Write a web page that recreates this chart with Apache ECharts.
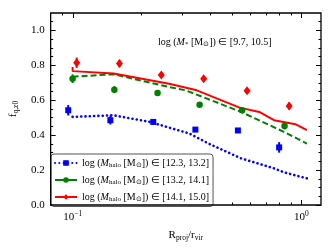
<!DOCTYPE html>
<html><head><meta charset="utf-8">
<script src="https://cdn.jsdelivr.net/npm/echarts@6/dist/echarts.min.js"></script>
<style>html,body{margin:0;padding:0;background:#fff}#c{width:334px;height:250px}</style>
</head><body><div id="c"></div>
<script>
// ---- data ----
const seriesNames = ['low', 'mid', 'high'];
const legendLabels = ['[12.3, 13.2]', '[13.2, 14.1]', '[14.1, 15.0]'];
const xMajorTicks = [0.1, 1];
const xMinorTicks = [0.08, 0.09, 0.2, 0.3, 0.4, 0.5, 0.6, 0.7, 0.8, 0.9];
const yMajorTicks = [0, 0.2, 0.4, 0.6, 0.8, 1.0];
const yMinorTicks = [0.05, 0.1, 0.15, 0.25, 0.3, 0.35, 0.45, 0.5, 0.55, 0.65, 0.7, 0.75, 0.85, 0.9, 0.95, 1.05];

// observed points [R, f, err]
const bluePts = [[0.0955, 0.543, 0.03], [0.146, 0.486, 0.025], [0.225, 0.476, 0.015], [0.344, 0.432, 0.01], [0.528, 0.427, 0.01], [0.80, 0.33, 0.03]];
const greenPts = [[0.0998, 0.724, 0.025], [0.152, 0.661, 0.02], [0.235, 0.642, 0.015], [0.359, 0.575, 0.01], [0.551, 0.543, 0.01], [0.845, 0.453, 0.02]];
const redPts = [[0.104, 0.815, 0.03], [0.160, 0.81, 0.02], [0.244, 0.745, 0.015], [0.374, 0.724, 0.015], [0.579, 0.655, 0.015], [0.885, 0.567, 0.02]];

// model lines [R, f]
const blueLine = [[0.0998, 0.505], [0.151, 0.514], [0.217, 0.476], [0.323, 0.41], [0.406, 0.343], [0.546, 0.267], [0.760, 0.21], [0.841, 0.187], [1.062, 0.152]];
const greenLine = [[0.0998, 0.735], [0.1005, 0.743], [0.151, 0.749], [0.264, 0.676], [0.312, 0.657], [0.546, 0.533], [0.839, 0.419], [1.059, 0.352]];
const redLine = [[0.0998, 0.791], [0.0999, 0.767], [0.151, 0.754], [0.264, 0.695], [0.349, 0.657], [0.537, 0.558], [0.655, 0.533], [0.760, 0.486], [0.942, 0.463], [1.059, 0.429]];

const colors = ['#0000ff', '#008000', '#ff0000'];
const FONT = 'Liberation Serif';

const chart = echarts.init(document.getElementById('c'), null, {renderer: 'canvas'});

function errSeries(data, color) {
  return {
    type: 'custom', xAxisIndex: 0, yAxisIndex: 0, z: 4, silent: true,
    renderItem: function (params, api) {
      const x = api.value(0), y = api.value(1), e = api.value(2);
      const p1 = api.coord([x, y - e]);
      const p2 = api.coord([x, y + e]);
      return {type: 'line', shape: {x1: p1[0], y1: p1[1], x2: p2[0], y2: p2[1]}, style: {stroke: color, lineWidth: 2}};
    },
    data: data
  };
}
function ptSeries(name, data, color, symbol, size) {
  return {type: 'scatter', name: name, data: data.map(d => [d[0], d[1]]), symbol: symbol, symbolSize: size,
    itemStyle: {color: color, opacity: 1}, z: 5, silent: true};
}
function xAx(pos, ticks, len, labels) {
  return {
    type: 'log', logBase: 10, min: 0.08, max: 1.22, position: pos,
    axisLine: {show: false, onZero: false},
    splitLine: {show: false},
    axisTick: {show: true, inside: true, length: len, customValues: ticks, lineStyle: {color: '#000', width: 1}},
    axisLabel: labels ? {
      show: true, customValues: xMajorTicks, margin: 5,
      formatter: v => v < 0.5 ? '{b|10}{s|\u22121}' : '{b|10}{s|0}',
      rich: {b: {fontFamily: FONT, fontSize: 11, color: '#000'}, s: {fontFamily: FONT, fontSize: 7.5, color: '#000', padding: [0, 0, 7, 0]}}
    } : {show: false}
  };
}
function yAx(pos, ticks, len, labels) {
  return {
    type: 'value', min: 0, max: 1.1, position: pos,
    axisLine: {show: false, onZero: false},
    splitLine: {show: false},
    axisTick: {show: true, inside: true, length: len, customValues: ticks, lineStyle: {color: '#000', width: 1}},
    axisLabel: labels ? {show: true, customValues: yMajorTicks, margin: 6,
      fontFamily: FONT, fontSize: 11, color: '#000', formatter: v => v.toFixed(1)} : {show: false}
  };
}

const xAxes = [xAx('bottom', xMajorTicks, 5, true), xAx('bottom', xMinorTicks, 2.5, false),
               xAx('top', xMajorTicks, 5, false), xAx('top', xMinorTicks, 2.5, false)];
xAxes[0].name = '{a|R}{s|proj}{a|/r}{s|vir}';
xAxes[0].nameLocation = 'middle';
xAxes[0].nameGap = 24;
xAxes[0].nameTextStyle = {rich: {a: {fontFamily: FONT, fontSize: 11, color: '#000'}, s: {fontFamily: FONT, fontSize: 7.5, color: '#000', padding: [5, 0, 0, 0]}}};

const yAxes = [yAx('left', yMajorTicks, 5, true), yAx('left', yMinorTicks, 2.5, false),
               yAx('right', yMajorTicks, 5, false), yAx('right', yMinorTicks, 2.5, false)];
yAxes[0].name = '{a|f}{s|q,z0}';
yAxes[0].nameLocation = 'middle';
yAxes[0].nameRotate = 90;
yAxes[0].nameGap = 30;
yAxes[0].nameTextStyle = {rich: {a: {fontFamily: FONT, fontSize: 11, color: '#000'}, s: {fontFamily: FONT, fontSize: 7.5, color: '#000', padding: [5, 0, 0, 0]}}};

const lineSeries = [
  {type: 'line', name: seriesNames[0], data: blueLine, showSymbol: false, symbol: 'rect', symbolSize: 7, z: 3,
   lineStyle: {color: colors[0], width: 2.6, type: [0.1, 4.2], cap: 'round'}, itemStyle: {color: colors[0]}, silent: true},
  {type: 'line', name: seriesNames[1], data: greenLine, showSymbol: false, symbol: 'circle', symbolSize: 7, z: 3,
   lineStyle: {color: colors[1], width: 2, type: [6, 3]}, itemStyle: {color: colors[1]}, silent: true},
  {type: 'line', name: seriesNames[2], data: redLine, showSymbol: false, symbol: 'diamond', symbolSize: 8, z: 3,
   lineStyle: {color: colors[2], width: 2}, itemStyle: {color: colors[2]}, silent: true}
];

const legendRich = {
  n: {fontFamily: FONT, fontSize: 10, fontWeight: 'normal', color: '#000'},
  i: {fontFamily: FONT, fontSize: 10, fontWeight: 'normal', fontStyle: 'italic', color: '#000'},
  s: {fontFamily: FONT, fontSize: 7, fontWeight: 'normal', color: '#000', padding: [4, 0, 0, 0]}
};

chart.setOption({
  animation: false,
  backgroundColor: '#fff',
  grid: {left: 47, right: 13, top: 13, bottom: 45, containLabel: false, show: true,
         borderColor: '#000', borderWidth: 1.3, backgroundColor: 'transparent', z: 10},
  title: {
    text: '{n|log (}{i|M}{s|*}{n| [M}{s|\u2299}{n|]) \u2208 [9.7, 10.5]}',
    left: 158, top: 37, padding: 0,
    textStyle: {fontWeight: 'normal', rich: legendRich}
  },
  legend: {
    orient: 'vertical', left: 51, top: 154, padding: [4, 4, 4, 3],
    itemWidth: 22, itemHeight: 7, itemGap: 6.5,
    backgroundColor: '#fff', borderColor: '#555', borderWidth: 1, borderRadius: 3,
    selectedMode: false,
    data: [
      {name: seriesNames[0]},
      {name: seriesNames[1], lineStyle: {type: 'solid'}},
      {name: seriesNames[2]}
    ],
    formatter: function (name) {
      const k = seriesNames.indexOf(name);
      return '{n|log (}{i|M}{s|halo}{n| [M}{s|\u2299}{n|]) \u2208 ' + legendLabels[k] + '}';
    },
    textStyle: {rich: legendRich}
  },
  xAxis: xAxes,
  yAxis: yAxes,
  series: [
    ...lineSeries,
    errSeries(bluePts, colors[0]), errSeries(greenPts, colors[1]), errSeries(redPts, colors[2]),
    ptSeries('bp', bluePts, colors[0], 'rect', 6),
    ptSeries('gp', greenPts, colors[1], 'circle', 6.5),
    ptSeries('rp', redPts, colors[2], 'diamond', [7, 9])
  ]
});
</script></body></html>
